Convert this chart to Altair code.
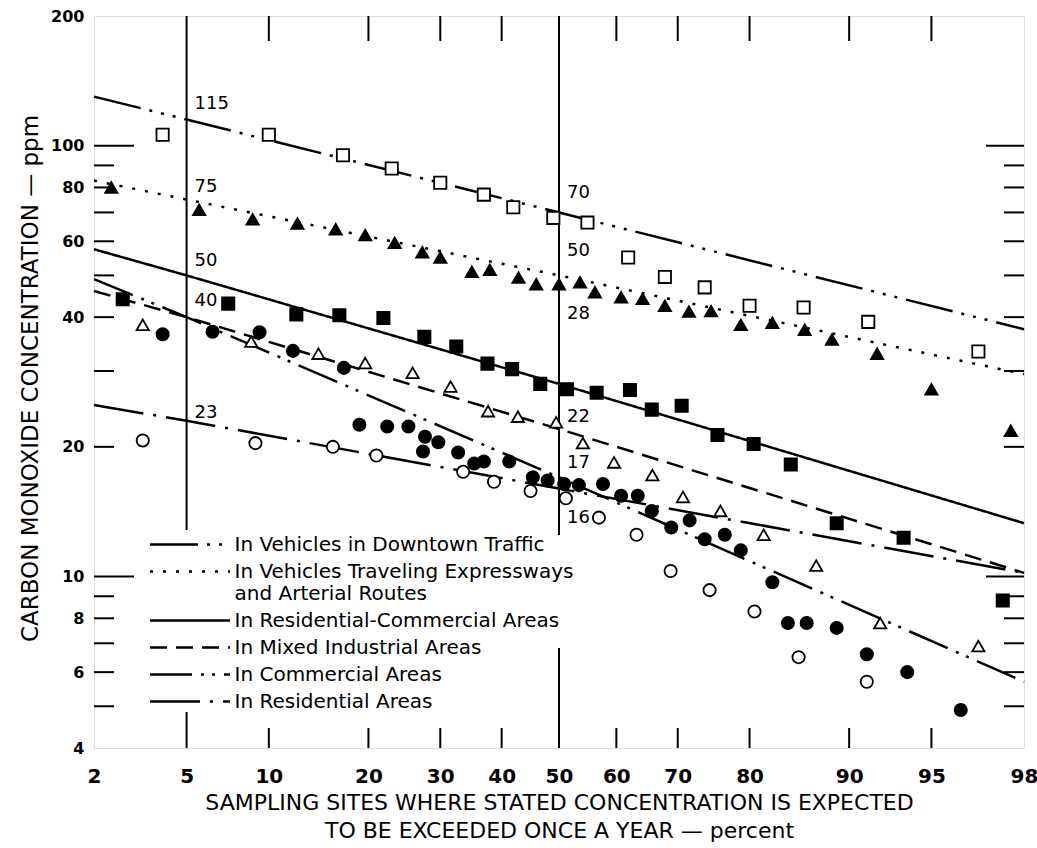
import altair as alt
import pandas as pd
from statistics import NormalDist

# ---------------- data ----------------
SERIES = [
    "In Vehicles in Downtown Traffic",
    "In Vehicles Traveling Expressways and Arterial Routes",
    "In Residential-Commercial Areas",
    "In Mixed Industrial Areas",
    "In Commercial Areas",
    "In Residential Areas",
]

# fitted lines: value at 2, 5, 50 and 98 percent
line_pct = [2, 5, 50, 98]
downtown_line = [130, 115, 70, 37.5]
express_line = [83, 75, 50, 29.5]
rescom_line = [57.5, 50, 28, 13.3]
mixed_line = [46, 40, 22, 10.2]
commercial_line = [49, 40, 17, 5.7]
residential_line = [25, 23, 16, 10.2]

# observed points (percent, ppm)
downtown_pct = [4, 10, 17, 23, 30, 37, 42, 49, 55, 62, 68, 74, 80, 86, 91.4, 96.8]
downtown_ppm = [106, 106, 95, 88.5, 82, 77, 72, 68, 66.3, 55, 49.6, 46.9, 42.5, 42.1, 39, 33.3]

express_pct = [2.4, 5.6, 8.8, 12.4, 16.2, 19.6, 23.4, 27.3, 30, 35, 38, 42.9, 46, 50, 53.7,
               56.3, 60.8, 64.4, 68, 71.7, 74.9, 78.9, 82.7, 86.1, 88.6, 92, 95, 97.7]
express_ppm = [80, 71, 67.5, 66, 64, 62, 59.5, 56.6, 55, 51, 51.5, 49.4, 47.7, 47.7, 48.2,
               45.7, 44.5, 44.1, 42.5, 41.2, 41.3, 38.4, 38.8, 37.4, 35.5, 32.9, 27.2, 21.8]

rescom_pct = [2.7, 7.2, 12.3, 16.6, 21.9, 27.6, 32.5, 37.6, 41.8, 46.7, 51.4, 56.6, 62.3,
              65.9, 70.6, 75.8, 80.5, 84.7, 89, 93.6, 97.5]
rescom_ppm = [44, 43, 40.6, 40.4, 39.8, 36, 34.2, 31.2, 30.3, 28, 27.2, 26.7, 27.1,
              24.4, 24.9, 21.3, 20.3, 18.2, 13.3, 12.3, 8.8]

mixed_pct = [3.3, 8.7, 14.4, 19.6, 25.9, 31.6, 37.7, 42.8, 49.5, 54.2, 59.6, 66, 70.8,
             76.2, 81.7, 87.2, 92.2, 96.8]
mixed_ppm = [38.4, 35.1, 32.9, 31.3, 29.7, 27.6, 24.2, 23.5, 22.8, 20.4, 18.4, 17.2, 15.3,
             14.2, 12.5, 10.6, 7.8, 6.9]

commercial_pct = [4, 6.3, 9.3, 12, 17.1, 18.9, 22.4, 25.3, 27.7, 29.7, 27.4, 32.8, 35.4, 37,
                  41.3, 45.4, 48, 50.9, 53.5, 57.7, 60.8, 63.6, 65.9, 69, 71.8, 74, 76.8,
                  78.9, 82.7, 84.4, 86.3, 89, 91.3, 93.8, 96.2]
commercial_ppm = [36.5, 37, 36.9, 33.4, 30.5, 22.5, 22.3, 22.3, 21.1, 20.5, 19.5, 19.4, 18.3,
                  18.5, 18.5, 17, 16.7, 16.4, 16.3, 16.4, 15.4, 15.4, 14.2, 13, 13.5, 12.2,
                  12.5, 11.5, 9.7, 7.8, 7.8, 7.6, 6.6, 6.0, 4.9]

residential_pct = [3.3, 9, 15.9, 21, 33.6, 38.7, 45, 51.2, 57, 63.4, 68.9, 74.7, 80.6, 85.5, 91.3]
residential_ppm = [20.7, 20.4, 20, 19.1, 17.5, 16.6, 15.8, 15.2, 13.7, 12.5, 10.3, 9.3, 8.3, 6.5, 5.7]

# annotations at the 5 % and 50 % reference lines
ann_pct = [5, 5, 5, 5, 5, 50, 50, 50, 50, 50, 50]
ann_text = ["115", "75", "50", "40", "23", "70", "50", "28", "22", "17", "16"]
ann_at = [125, 80.4, 54, 43.6, 24, 77.5, 57, 40.6, 23.5, 18.3, 13.7]

# axis ticks / labels
x_labels = [2, 5, 10, 20, 30, 40, 50, 60, 70, 80, 90, 95, 98]
y_labels = [4, 6, 8, 10, 20, 40, 60, 80, 100, 200]
y_minor = [5, 6, 7, 8, 9, 20, 30, 40, 50, 60, 70, 80, 90]
y_major = [10, 100]
x_minor = [10, 20, 30, 40, 60, 70, 80, 90, 95]

# ---------------- styling ----------------
DASHES = [[48, 9, 3, 9, 3, 9, 3, 9], [3, 10], [1, 0], [17, 9], [42, 9, 3, 8, 3, 9], [50, 10, 3, 10]]
SHAPES = ["square", "triangle-up", "square", "triangle-up", "circle", "circle"]
FILLS = ["white", "black", "black", "white", "black", "white"]

W, H = 930, 732
FONT = "DejaVu Sans"

nd = NormalDist()
zlo, zhi = nd.inv_cdf(0.02), nd.inv_cdf(0.98)
x_tick_z = [nd.inv_cdf(p / 100) for p in x_labels]

x_enc = alt.X(
    "z:Q",
    scale=alt.Scale(domain=[zlo, zhi], nice=False, zero=False),
    axis=alt.Axis(
        values=x_tick_z,
        labelExpr="'' + round(cumulativeNormal(datum.value) * 100)",
        grid=False, ticks=False, tickSize=0, domain=False,
        labelFont=FONT, labelFontSize=20, labelFontWeight="bold", labelColor="black",
        labelPadding=18, labelFlush=False, labelOverlap=False,
        title=["SAMPLING SITES WHERE STATED CONCENTRATION IS EXPECTED",
               "TO BE EXCEEDED ONCE A YEAR \u2014 percent"],
        titleFont=FONT, titleFontSize=22, titleFontWeight="normal", titleColor="black",
        titleY=44, titleBaseline="top", titleLineHeight=28,
    ),
)
y_enc = alt.Y(
    "ppm:Q",
    scale=alt.Scale(type="log", domain=[4, 200], nice=False),
    axis=alt.Axis(
        values=y_labels, format="d",
        grid=False, ticks=False, tickSize=0, domain=False,
        labelFont=FONT, labelFontSize=16, labelFontWeight="bold", labelColor="black",
        labelPadding=10, labelFlush=False, labelOverlap=False,
        title="CARBON MONOXIDE CONCENTRATION \u2014 ppm",
        titleFont=FONT, titleFontSize=23, titleFontWeight="normal", titleColor="black",
        titleX=-64, titleY=362, titleAngle=270, titleAlign="center", titleBaseline="middle",
    ),
)


def zc(ch):
    return ch.transform_calculate(z="quantileNormal(datum.pct / 100)")


# tables
lines_df = pd.concat([
    pd.DataFrame({"series": s, "pct": line_pct, "ppm": v})
    for s, v in zip(SERIES, [downtown_line, express_line, rescom_line, mixed_line,
                             commercial_line, residential_line])
])
pts_df = pd.concat([
    pd.DataFrame({"kind": s, "pct": p, "ppm": v})
    for s, p, v in zip(SERIES,
                       [downtown_pct, express_pct, rescom_pct, mixed_pct, commercial_pct, residential_pct],
                       [downtown_ppm, express_ppm, rescom_ppm, mixed_ppm, commercial_ppm, residential_ppm])
])
ann_df = pd.DataFrame({"pct": ann_pct, "label": ann_text, "ppm": ann_at})

rule = dict(color="black", strokeWidth=2)

left_minor = alt.Chart(pd.DataFrame({"ppm": y_minor})).mark_rule(**rule).encode(
    y=y_enc, x=alt.value(0), x2=alt.value(20))
left_major = alt.Chart(pd.DataFrame({"ppm": y_major})).mark_rule(**rule).encode(
    y=y_enc, x=alt.value(0), x2=alt.value(40))
right_minor = alt.Chart(pd.DataFrame({"ppm": y_minor})).mark_rule(**rule).encode(
    y=y_enc, x=alt.value(W), x2=alt.value(W - 20))
right_major = alt.Chart(pd.DataFrame({"ppm": y_major})).mark_rule(**rule).encode(
    y=y_enc, x=alt.value(W), x2=alt.value(W - 38))
top_ticks = zc(alt.Chart(pd.DataFrame({"pct": x_minor}))).mark_rule(**rule).encode(
    x=x_enc, y=alt.value(0), y2=alt.value(25))
bottom_ticks = zc(alt.Chart(pd.DataFrame({"pct": x_minor}))).mark_rule(**rule).encode(
    x=x_enc, y=alt.value(H), y2=alt.value(H - 20))
bottom_5 = zc(alt.Chart(pd.DataFrame({"pct": [5]}))).mark_rule(**rule).encode(
    x=x_enc, y=alt.value(H), y2=alt.value(H - 36))
bottom_50 = zc(alt.Chart(pd.DataFrame({"pct": [50]}))).mark_rule(**rule).encode(
    x=x_enc, y=alt.value(H), y2=alt.value(H - 100))
ref_5 = zc(alt.Chart(pd.DataFrame({"pct": [5]}))).mark_rule(**rule).encode(
    x=x_enc, y=alt.value(0), y2=alt.value(514))
ref_50 = zc(alt.Chart(pd.DataFrame({"pct": [50]}))).mark_rule(**rule).encode(
    x=x_enc, y=alt.value(0), y2=alt.value(519))

lines = zc(alt.Chart(lines_df)).mark_line(color="black", strokeWidth=2.5).encode(
    x=x_enc, y=y_enc,
    detail="series:N",
    strokeDash=alt.StrokeDash(
        "series:N",
        scale=alt.Scale(domain=SERIES, range=DASHES),
        legend=alt.Legend(
            title=None, orient="none", legendX=56, legendY=517, padding=0,
            symbolType="M-4,0H4", symbolSize=400, symbolStrokeWidth=2.5,
            symbolStrokeColor="black", symbolOffset=28.5, labelOffset=33,
            labelFont=FONT, labelFontSize=20, labelColor="black", labelLimit=600,
            rowPadding=5,
            labelExpr=("datum.label == 'In Vehicles Traveling Expressways and Arterial Routes' ? "
                       "['In Vehicles Traveling Expressways', 'and Arterial Routes'] : datum.label"),
        ),
    ),
)

points = zc(alt.Chart(pts_df)).mark_point(filled=True, stroke="black", strokeWidth=1.8, size=150,
                                          opacity=1).encode(
    x=x_enc, y=y_enc,
    shape=alt.Shape("kind:N", scale=alt.Scale(domain=SERIES, range=SHAPES), legend=None),
    fill=alt.Fill("kind:N", scale=alt.Scale(domain=SERIES, range=FILLS), legend=None),
)

labels = zc(alt.Chart(ann_df)).mark_text(align="left", baseline="middle", dx=8, font=FONT,
                                          fontSize=18, color="black").encode(
    x=x_enc, y=y_enc, text="label:N")

chart = alt.layer(
    left_minor, left_major, right_minor, right_major, top_ticks, bottom_ticks, bottom_5, bottom_50,
    ref_5, ref_50, lines, points, labels,
).resolve_scale(shape="independent", fill="independent", strokeDash="independent").properties(
    width=W, height=H,
    autosize=alt.AutoSizeParams(type="none"),
    padding={"left": 94, "top": 16, "right": 13, "bottom": 100},
    background="white",
).configure_view(stroke="black", strokeWidth=2.5).configure(font=FONT)

chart.save("out.html", embed_options={"renderer": "svg", "actions": False})
